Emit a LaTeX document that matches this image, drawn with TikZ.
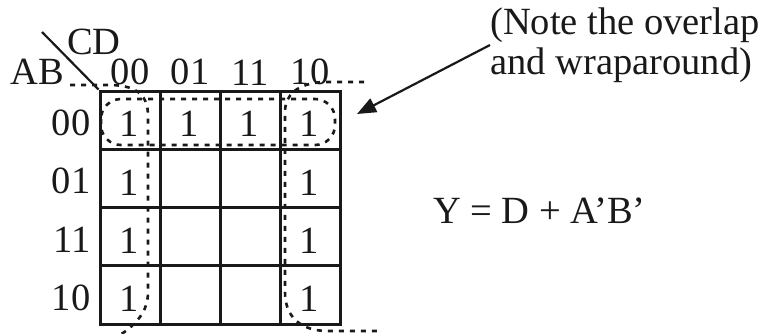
\documentclass[tikz,border=0pt]{standalone}
\usepackage{fontspec}
\setmainfont{Liberation Serif}
\usepackage{xcolor}
\usepackage{tikz}
\usetikzlibrary{arrows.meta,positioning,calc}
\definecolor{mapink}{RGB}{25,25,25}

\begin{document}
\begin{tikzpicture}[
    x=1pt, y=-1pt,
    every node/.style={font=\fontsize{38.5}{40}\selectfont, text=mapink, inner sep=0pt},
    cellbox/.style={rectangle, draw=mapink, line width=3pt, minimum width=60pt, minimum height=58.25pt},
    loopline/.style={draw=mapink, line width=2.6pt, dash pattern=on 5pt off 6pt},
    arr/.style={-{Triangle[length=19pt, width=15pt]}, line width=2.2pt, draw=mapink}
]
\useasboundingbox (0,0) rectangle (773,333);
\clip (0,0) rectangle (773,333);

% K-map cells
\foreach \r in {0,...,3} {
  \foreach \c in {0,...,3} {
    \node[cellbox] (c\r\c) at ({130+60*\c},{120.125+58.25*\r}) {};
  }
}

% ones
\foreach \r/\c in {0/0,0/1,0/2,0/3,1/0,2/0,3/0,1/3,2/3,3/3} {
  \node (v\r\c) at ($(c\r\c)+(-1,4)$) {1};
}

% column and row labels
\foreach \c/\t in {0/00,1/01,2/11,3/10} {
  \node[above=4pt of c0\c] (col\c) {\t};
}
\foreach \r/\t in {0/00,1/01,2/11,3/10} {
  \node[left=8pt of c\r0, yshift=-3pt] (row\r) {\t};
}
\node (ab) at (37,72) {AB};
\node (cd) at (94,42) {CD};
\draw[mapink, line width=2.2pt] (42,32) -- (c00.north west);

% groups
\draw[loopline, rounded corners=20pt] (101,99) rectangle (335,145);
\draw[loopline] (70,85) -- (112,85) .. controls (138,86) and (148,96) .. (148,116)
  -- (148,292) .. controls (148,312) and (136,326) .. (112,340);
\draw[loopline] (364,82) -- (322,82) .. controls (298,84) and (285,94) .. (285,112)
  -- (285,292) .. controls (285,318) and (302,331) .. (328,331) -- (380,331);

% note and result
\node[align=left, anchor=west] (note) at (490,45) {(Note the overlap\\and wraparound)};
\coordinate (tip) at (357,114);
\draw[arr] (note.west) -- (tip);
\node[anchor=west] (eq) at (433,211) {Y = D + A’B’};

\end{tikzpicture}
\end{document}
